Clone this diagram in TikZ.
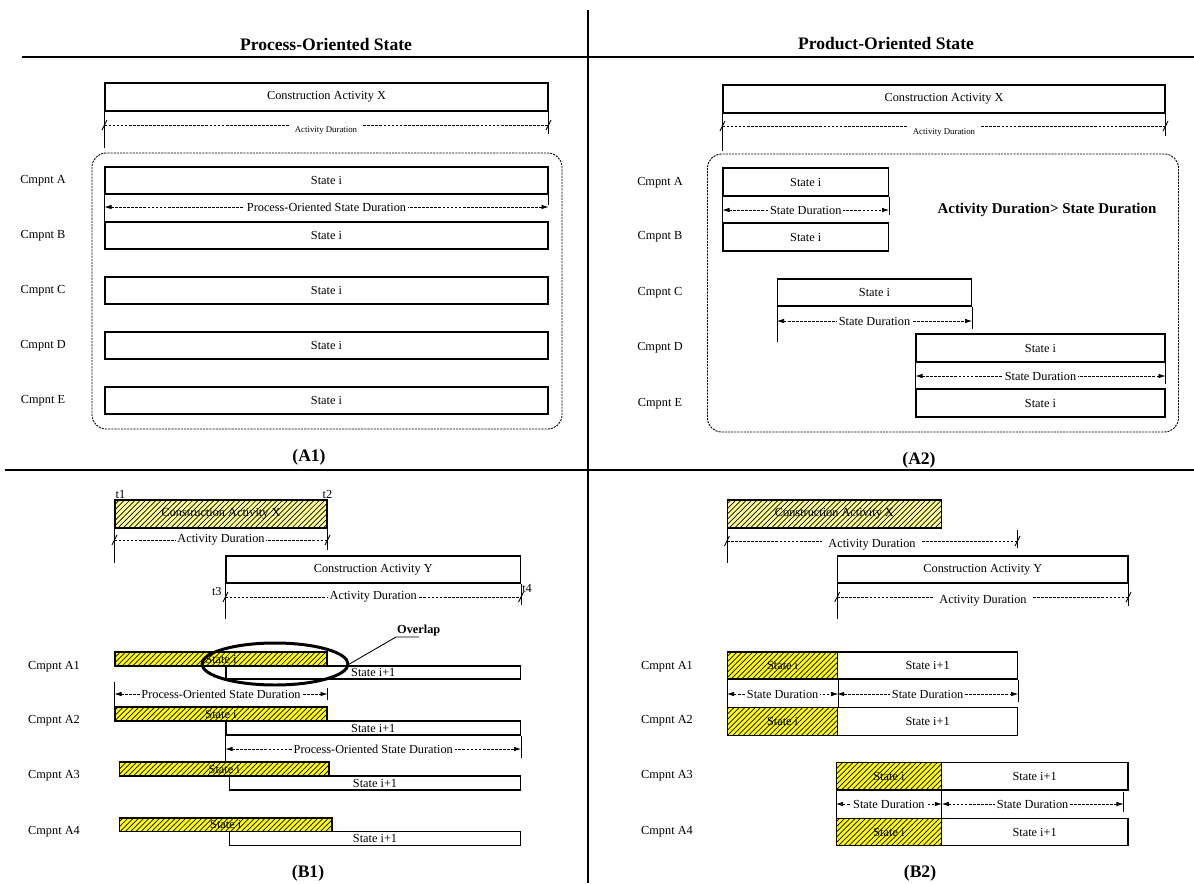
\documentclass[tikz,border=0pt]{standalone}
\usepackage{fontspec}
\setmainfont{Liberation Serif}
\usetikzlibrary{arrows.meta,patterns,fit,shapes.geometric}
\definecolor{hatchpale}{RGB}{255,255,150}
\definecolor{hatchyel}{RGB}{255,255,0}
\tikzset{
  box/.style={draw, line width=0.6pt, inner sep=0pt},
  xhatch/.style={box, fill=hatchpale, postaction={pattern=north east lines}},
  shatch/.style={box, fill=hatchyel, postaction={pattern=north east lines}},
  dimline/.style={line width=0.4pt, dash pattern=on 1.6pt off 0.7pt},
  extline/.style={line width=0.5pt},
  lbl/.style={font=\fontsize{7}{8}\selectfont},
  tinylbl/.style={font=\fontsize{5}{6}\selectfont},
  dimtxt/.style={lbl, fill=white, inner sep=1pt},
  ttl/.style={font=\fontsize{10}{12}\selectfont\bfseries},
  frame/.style={rounded corners=8pt, line width=0.5pt, dash pattern=on 1.2pt off 0.6pt},
  divider/.style={line width=1.1pt}
}
\newcommand\gbox[4][box]{\node[#1, fit={#3}] (#2) {}; \node[lbl] (#2t) at (#2.center) {#4};}
\newcommand\slashat[1]{\draw[extline] (#1) ++(-2.5,5) -- ++(5,-10);}
\begin{document}
\begin{tikzpicture}[x=0.02cm, y=-0.02cm, >={Latex[length=4pt,width=2.6pt]}]
\useasboundingbox (0,0) rectangle (1194,883);

% quadrant rules and captions
\draw[divider, line width=1.6pt] (588,10) -- (588,883);
\draw[divider] (22,57) -- (1194,57);
\draw[divider] (5,470) -- (1194,470);
\node[ttl] (tA1) at (326,44) {Process-Oriented State};
\node[ttl] (tA2) at (886,44) {Product-Oriented State};
\node[ttl] (cA1) at (309,457) {(A1)};
\node[ttl] (cA2) at (919,460) {(A2)};
\node[ttl] (cB1) at (308,873) {(B1)};
\node[ttl] (cB2) at (920,873) {(B2)};

%%% (A1)
\draw[frame] (92,153) rectangle (562,429);
\gbox{aXa}{(105,83) (548,111)}{Construction Activity X}
\draw[extline] (aXa.south west) -- ++(0,36) (aXa.south east) -- ++(0,22);
\node[tinylbl] (adA1) at (326,131) {Activity Duration};
\draw[dimline] (aXa.west |- 0,125) -- (adA1.west |- 0,125) (adA1.east |- 0,125) -- (aXa.east |- 0,125);
\slashat{aXa.west |- 0,125}
\slashat{aXa.east |- 0,125}
\foreach \n/\y in {A/167,B/222,C/277,D/332,E/387}{
  \gbox{sa\n}{(105,\y) (548,\y+27)}{State i}
  \node[lbl] (ca\n) at (43,\y+13.5) {Cmpnt \n};
}
\draw[extline] (saA.south west) -- (saB.north west) (saA.south east) -- ++(0,10);
\draw[dimline,<->] (saA.south west |- 0,207) -- node[dimtxt] (pdA1) {Process-Oriented State Duration} (saA.south east |- 0,207);

%%% (A2)
\draw[frame] (707.5,154) rectangle (1178.5,432);
\gbox{aXb}{(723,85) (1165,113)}{Construction Activity X}
\draw[extline] (aXb.south west) -- ++(0,37) (aXb.south east) -- ++(0,22);
\node[tinylbl] (adA2) at (944,133) {Activity Duration};
\draw[dimline] (aXb.west |- 0,126) -- (adA2.west |- 0,126) (adA2.east |- 0,126) -- (aXb.east |- 0,126);
\slashat{aXb.west |- 0,126}
\slashat{aXb.east |- 0,126}
\gbox{sbA}{(723,168) (888.5,196)}{State i}
\gbox{sbB}{(723,223) (888.5,251)}{State i}
\gbox{sbC}{(777.5,279) (971.5,306)}{State i}
\gbox{sbD}{(916,334) (1165,362)}{State i}
\gbox{sbE}{(916,389) (1165,417)}{State i}
\foreach \n/\y in {A/183,B/237,C/293,D/348,E/404}
  \node[lbl] (cb\n) at (660,\y) {Cmpnt \n};
\draw[extline] (sbA.south west) -- (sbB.north west) (sbA.south east) -- ++(0,18);
\draw[dimline,<->] (sbA.south west |- 0,210) -- node[dimtxt] (sdA) {State Duration} (sbA.south east |- 0,210);
\draw[extline] (sbC.south west) -- ++(0,35) (sbC.south east) -- ++(0,22);
\draw[dimline,<->] (sbC.south west |- 0,321) -- node[dimtxt] (sdC) {State Duration} (sbC.south east |- 0,321);
\draw[extline] (sbD.south west) -- (sbE.north west) (sbD.south east) -- ++(0,21);
\draw[dimline,<->] (sbD.south west |- 0,376) -- node[dimtxt] (sdD) {State Duration} (sbD.south east |- 0,376);
\node[font=\fontsize{8.5}{10}\selectfont\bfseries] (cmp) at (1047,210) {Activity Duration> State Duration};

%%% (B1)
\gbox[xhatch]{bXa}{(115,500) (327,528)}{Construction Activity X}
\node[lbl, anchor=south west, inner sep=0.5pt] (t1) at (bXa.north west) {t1};
\node[lbl, anchor=south, inner sep=0.5pt] (t2) at (bXa.north east) {t2};
\draw[extline] (bXa.south west) -- ++(0,34) (bXa.south east) -- ++(0,21);
\draw[dimline] (bXa.south west |- 0,540) -- node[dimtxt] (adB1) {Activity Duration} (bXa.south east |- 0,540);
\slashat{bXa.south west |- 0,540}
\slashat{bXa.south east |- 0,540}
\gbox{bYa}{(226,556) (520.5,583)}{Construction Activity Y}
\node[lbl, anchor=north east, inner sep=2pt] (t3) at (bYa.south west) {t3};
\node[lbl, anchor=north west, inner sep=0.5pt] (t4) at (bYa.south east) {t4};
\draw[extline] (bYa.south west) -- ++(0,35) (bYa.south east) -- ++(0,21);
\draw[dimline] (bYa.south west |- 0,597) -- node[dimtxt] (adB1y) {Activity Duration} (bYa.south east |- 0,597);
\slashat{bYa.south west |- 0,597}
\slashat{bYa.south east |- 0,597}
\gbox[shatch]{h1}{(115,652) (327,666)}{State i}
\gbox{n1}{(226,666) (520.5,679)}{State i+1}
\gbox[shatch]{h2}{(115,707) (327,721)}{State i}
\gbox{n2}{(226,721) (520.5,735)}{State i+1}
\gbox[shatch]{h3}{(119.5,762) (329,776)}{State i}
\gbox{n3}{(229.5,776) (520.5,790)}{State i+1}
\gbox[shatch]{h4}{(119.5,818) (332,831.5)}{State i}
\gbox{n4}{(229.5,831.5) (520.5,845.5)}{State i+1}
\foreach \n/\y in {1/667,2/721,3/776,4/832}
  \node[lbl] (cc\n) at (54,\y) {Cmpnt A\n};
\draw[extline] (h1.south west |- 0,682) -- (h2.north west) (h1.south east |- 0,688) -- ++(0,12);
\draw[dimline,<->] (h1.south west |- 0,694) -- node[dimtxt] (pdB1) {Process-Oriented State Duration} (h1.south east |- 0,694);
\draw[extline] (n2.south west) -- ++(0,27) (n2.south east) -- ++(0,22);
\draw[dimline,<->] (n2.south west |- 0,749) -- node[dimtxt] (pdB2) {Process-Oriented State Duration} (n2.south east |- 0,749);
% overlap mark
\node[draw, ellipse, line width=1.7pt, minimum width=2.92cm, minimum height=0.84cm, inner sep=0pt] (ovlp) at (275,664) {};
\node[font=\fontsize{7}{8}\selectfont\bfseries, anchor=south west, inner sep=0.5pt] (ovl) at (396,637) {Overlap};
\draw[extline] (ovlp.east) -- (ovl.south west) -- (ovl.south west -| 419,0);

%%% (B2)
\gbox[xhatch]{bXb}{(727.5,500) (941.3,528)}{Construction Activity X}
\coordinate (xEnd) at (1017.6,541);
\draw[extline] (bXb.south west) -- ++(0,34) (xEnd |- 0,530) -- (xEnd |- 0,548);
\node[lbl] (adB2) at (872,545) {Activity Duration};
\draw[dimline] (bXb.south west |- 0,541) -- (adB2.west |- 0,541) (adB2.east |- 0,541) -- (xEnd);
\slashat{bXb.south west |- 0,541}
\slashat{xEnd}
\gbox{bYb}{(837.7,556) (1128,583)}{Construction Activity Y}
\draw[extline] (bYb.south west) -- ++(0,35) (bYb.south east) -- ++(0,22);
\node[lbl] (adB2y) at (983,601) {Activity Duration};
\draw[dimline] (bYb.south west |- 0,597) -- (adB2y.west |- 0,597) (adB2y.east |- 0,597) -- (bYb.south east |- 0,597);
\slashat{bYb.south west |- 0,597}
\slashat{bYb.south east |- 0,597}
\gbox[shatch]{g1}{(727.5,652) (837.7,679)}{State i}
\gbox{m1}{(837.7,652) (1017.6,679)}{State i+1}
\gbox[shatch]{g2}{(727.5,707.7) (837.7,735.3)}{State i}
\gbox{m2}{(837.7,707.7) (1017.6,735.3)}{State i+1}
\gbox[shatch]{g3}{(836.5,762.7) (941.3,790)}{State i}
\gbox{m3}{(941.3,762.7) (1128,790)}{State i+1}
\gbox[shatch]{g4}{(836.5,818.3) (941.3,845.7)}{State i}
\gbox{m4}{(941.3,818.3) (1128,845.7)}{State i+1}
\foreach \n/\y in {1/667,2/721,3/776,4/832}
  \node[lbl] (cd\n) at (667,\y) {Cmpnt A\n};
\draw[extline] (g1.south west) -- (g2.north west) (g1.south east) -- (g2.north east) (m1.south east) -- ++(0,22);
\draw[dimline,<->] (g1.south west |- 0,694) -- node[dimtxt] (sdB1) {State Duration} (g1.south east |- 0,694);
\draw[dimline,<->] (m1.south west |- 0,694) -- node[dimtxt] (sdB2) {State Duration} (m1.south east |- 0,694);
\coordinate (rEnd) at (1123.5,804);
\draw[extline] (g3.south west) -- (g4.north west) (g3.south east) -- (g4.north east) (rEnd |- 0,792) -- (rEnd |- 0,812);
\draw[dimline,<->] (g3.south west |- 0,804) -- node[dimtxt] (sdB3) {State Duration} (g3.south east |- 0,804);
\draw[dimline,<->] (g3.south east |- 0,804) -- node[dimtxt] (sdB4) {State Duration} (rEnd);
\end{tikzpicture}
\end{document}
